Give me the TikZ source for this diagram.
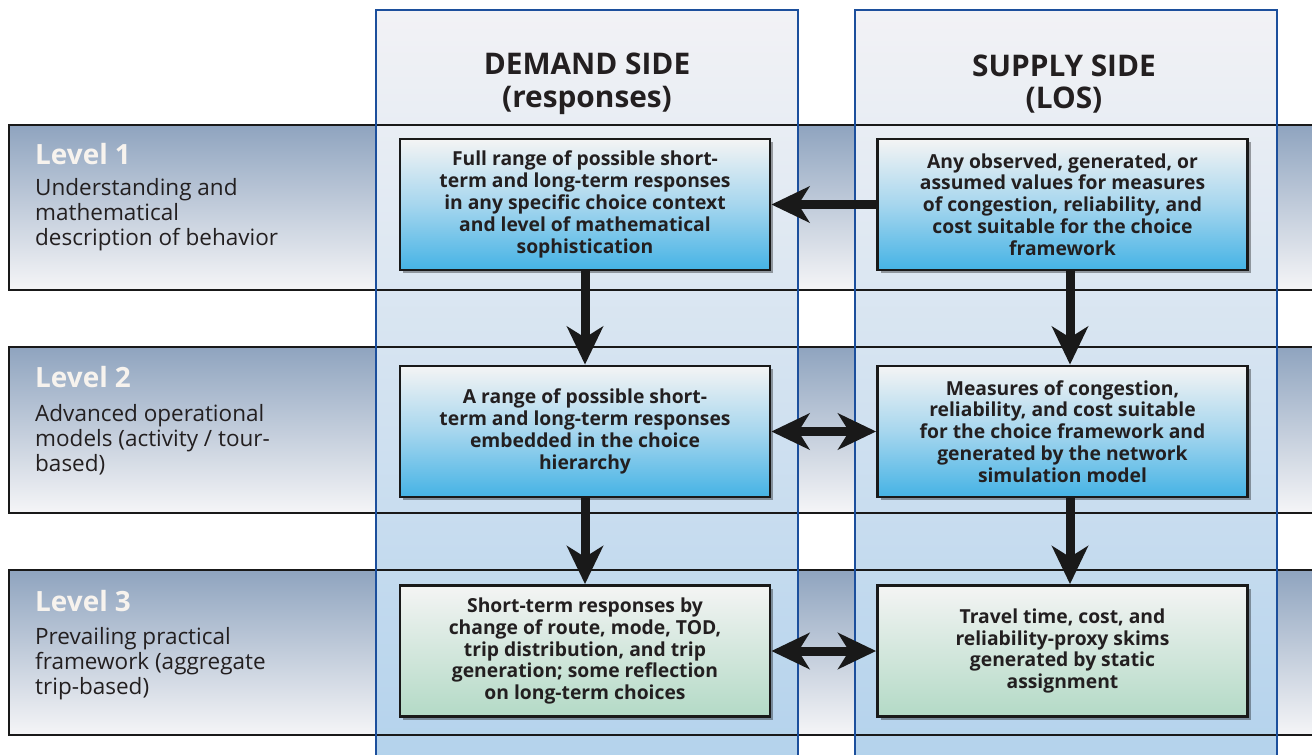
\documentclass[tikz,border=0pt]{standalone}
\usepackage{fontspec}
\setmainfont{Open Sans}
\usetikzlibrary{arrows.meta,shadows}
\definecolor{colblue}{HTML}{1C4F9C}
\definecolor{bandtop}{HTML}{8FA4BF}
\definecolor{bandbot}{HTML}{F5F5F7}
\definecolor{coltop}{HTML}{F2F2F5}
\definecolor{colmid}{HTML}{D3E0EC}
\definecolor{colbot}{HTML}{B3D2EC}
\definecolor{boxtop}{HTML}{F4F4F4}
\definecolor{boxmid}{HTML}{A6D6EE}
\definecolor{boxblue}{HTML}{45B3E5}
\definecolor{boxgreen}{HTML}{B3DAC6}
\definecolor{inktext}{HTML}{231F20}
\definecolor{lvlwhite}{HTML}{F7F3EE}
\begin{document}
\begin{tikzpicture}[x=1pt,y=-1pt,
  bandline/.style={draw=black!90,line width=2.6pt},
  colline/.style={draw=colblue,line width=2.4pt},
  box/.style={draw=black!90,line width=2.8pt,minimum width=370pt,minimum height=131pt,
    inner sep=0pt,align=center,text=inktext,
    font=\bfseries\fontsize{19.3}{21.8}\selectfont,
    drop shadow={shadow xshift=3pt,shadow yshift=-3pt,fill=black,opacity=0.35}},
  bluebox/.style={box,top color=boxtop,bottom color=boxblue,middle color=boxmid},
  greenbox/.style={box,top color=boxtop,bottom color=boxgreen},
  hdr/.style={align=center,text=inktext,inner sep=0pt,font=\bfseries\fontsize{29.8}{32.5}\selectfont},
  lvltitle/.style={text=lvlwhite,inner sep=0pt,font=\bfseries\fontsize{27.9}{30}\selectfont},
  lvldesc/.style={text=inktext,inner sep=0pt,align=left,font=\fontsize{22.5}{25}\selectfont},
  arr/.style={draw=black!90,line width=9pt,-{Stealth[length=38pt,width=36pt,inset=11pt]}},
  darr/.style={draw=black!90,line width=9pt,{Stealth[length=38pt,width=36pt,inset=11pt]}-{Stealth[length=38pt,width=36pt,inset=11pt]}}
]
\useasboundingbox (0,0) rectangle (1312,755);
\clip (0,0) rectangle (1312,755);
\fill[white] (0,0) rectangle (1312,755);

% level bands
\foreach \t/\b in {125/290,347/513,570/735}{
  \shade[top color=bandtop,bottom color=bandbot] (9,\t) rectangle (1330,\b);
}

% demand and supply columns
\foreach \l/\r in {376/798,855/1277}{
  \shade[top color=coltop,middle color=colmid,bottom color=colbot] (\l,10) rectangle (\r,770);
}

% band outlines
\foreach \t/\b in {125/290,347/513,570/735}{
  \draw[bandline] (9,\t) rectangle (1330,\b);
}

% column outlines
\foreach \l/\r in {376/798,855/1277}{
  \draw[colline] (\l,770) -- (\l,10) -- (\r,10) -- (\r,770);
}

% column headers
\node[hdr] (hd) at (587,84) {DEMAND SIDE\\(responses)};
\node[hdr] (hs) at (1064,84) {SUPPLY SIDE\\(LOS)};

% level labels
\node[lvltitle,anchor=base west] (t1) at (35,164) {Level 1};
\node[lvldesc,anchor=north west] (e1) at (35,178) {Understanding and\\mathematical\\description of behavior};
\node[lvltitle,anchor=base west] (t2) at (35,387) {Level 2};
\node[lvldesc,anchor=north west] (e2) at (35,404) {Advanced operational\\models (activity / tour-\\based)};
\node[lvltitle,anchor=base west] (t3) at (35,611) {Level 3};
\node[lvldesc,anchor=north west] (e3) at (35,627) {Prevailing practical\\framework (aggregate\\trip-based)};

% content boxes
\node[bluebox] (d1) at (585,204.5) {Full range of possible short-\\term and long-term responses\\in any specific choice context\\and level of mathematical\\sophistication};
\node[bluebox] (s1) at (1062.5,204.5) {Any observed, generated, or\\assumed values for measures\\of congestion, reliability, and\\cost suitable for the choice\\framework};
\node[bluebox] (d2) at (585,431.5) {A range of possible short-\\term and long-term responses\\embedded in the choice\\hierarchy};
\node[bluebox] (s2) at (1062.5,431.5) {Measures of congestion,\\reliability, and cost suitable\\for the choice framework and\\generated by the network\\simulation model};
\node[greenbox] (d3) at (585,651) {Short-term responses by\\change of route, mode, TOD,\\trip distribution, and trip\\generation; some reflection\\on long-term choices};
\node[greenbox] (s3) at (1062.5,651) {Travel time, cost, and\\reliability-proxy skims\\generated by static\\assignment};

% connectors
\draw[arr] (s1.west) -- (d1.east);
\draw[arr] (d1.south) -- (d2.north);
\draw[arr] ([xshift=7.5pt]s1.south) -- ([xshift=7.5pt]s2.north);
\draw[darr] (d2.east) -- (s2.west);
\draw[arr] (d2.south) -- (d3.north);
\draw[arr] ([xshift=7.5pt]s2.south) -- ([xshift=7.5pt]s3.north);
\draw[darr] (d3.east) -- (s3.west);
\end{tikzpicture}
\end{document}
